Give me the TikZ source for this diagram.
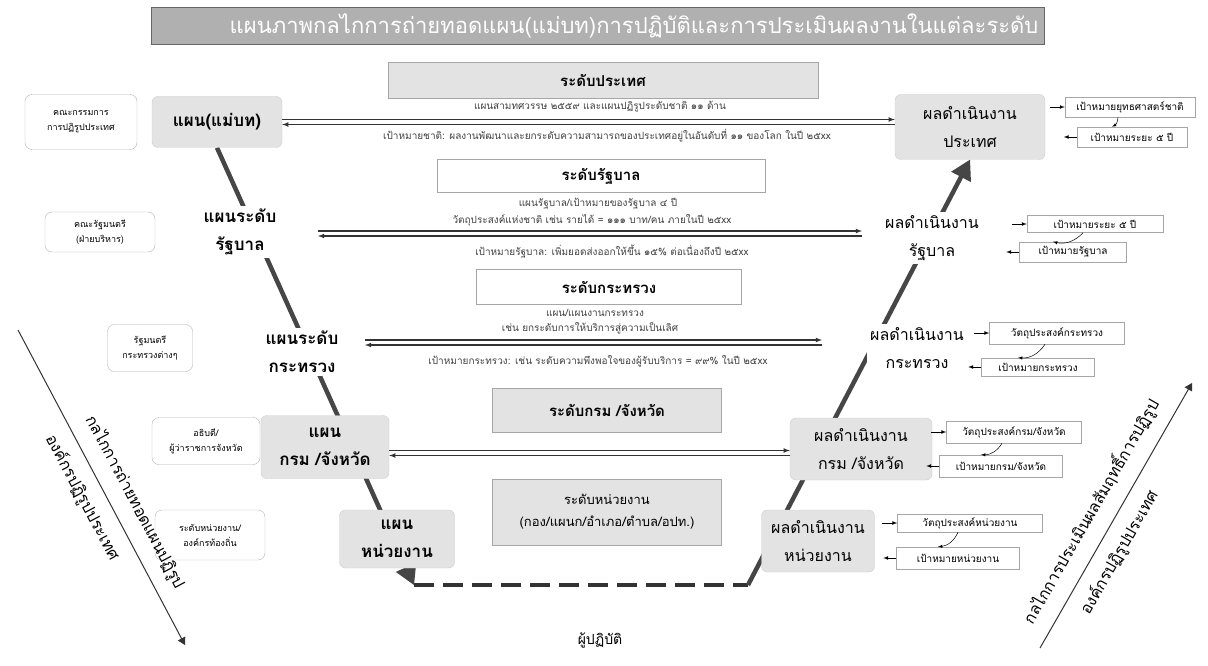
\documentclass[tikz,border=0pt]{standalone}
\usepackage{fontspec}
\setmainfont[Script=Thai]{Loma}
\usetikzlibrary{arrows, calc, backgrounds}

\tikzset{
  banner/.style={draw=black!60, fill=gray!62, minimum width=893pt, minimum height=37pt, inner sep=0pt},
  bannertext/.style={text=white, inner sep=0pt, font=\fontsize{22}{24}\selectfont},
  levelgray/.style={draw=gray!70, fill=gray!22, inner sep=0pt, font=\fontsize{15}{17}\selectfont\bfseries},
  levelwhite/.style={draw=gray!70, fill=white, inner sep=0pt, font=\fontsize{15}{17}\selectfont\bfseries},
  plangray/.style={draw=gray!40, fill=gray!22, rounded corners=6pt, inner sep=0pt, align=center, font=\fontsize{17}{28}\selectfont\bfseries},
  planword/.style={fill=white, inner sep=3pt, align=center, font=\fontsize{17}{28}\selectfont\bfseries},
  resgray/.style={draw=gray!40, fill=gray!22, rounded corners=6pt, inner sep=0pt, align=center, font=\fontsize{16}{28}\selectfont},
  resword/.style={fill=white, inner sep=3pt, align=center, font=\fontsize{16}{28}\selectfont},
  owner/.style={draw=gray!60, rounded corners=7pt, inner sep=0pt, align=center, font=\fontsize{9}{15}\selectfont},
  goal/.style={draw=gray!70, line width=0.5pt, inner sep=0pt, font=\fontsize{10}{12}\selectfont},
  note/.style={text=black!75, inner sep=0pt, font=\fontsize{10}{11}\selectfont},
  spine/.style={line width=4.5pt, draw=gray!55!black},
  gap/.style={line width=4pt, draw=black!80, dash pattern=on 20pt off 9pt},
  flow/.style={-latex, line width=1.1pt, draw=black!80},
  goalflow/.style={-latex, line width=0.7pt},
  turn/.style={-latex, line width=0.5pt},
  diag/.style={-triangle 60, line width=1pt, draw=black!80},
  diagtext/.style={font=\fontsize{16}{18}\selectfont, sloped, inner sep=1pt},
}

\begin{document}
\begin{tikzpicture}[x=1pt, y=-1pt]
	\useasboundingbox (0,0) rectangle (1208,666);

	\node[banner] (title) at (598,26) {};
	\node[bannertext] (titletext) at (634,26) {แผนภาพกลไกการถ่ายทอดแผน(แม่บท)การปฏิบัติและการประเมินผลงานในแต่ละระดับ};

	% levels
	\node[levelgray, minimum width=430pt, minimum height=36pt] (lv1) at (603,80) {ระดับประเทศ};
	\node[levelwhite, minimum width=328pt, minimum height=33pt] (lv2) at (601,176) {ระดับรัฐบาล};
	\node[levelwhite, minimum width=265pt, minimum height=35pt] (lv3) at (609,287) {ระดับกระทรวง};
	\node[levelgray, minimum width=229pt, minimum height=44pt] (lv4) at (607,410) {ระดับกรม /จังหวัด};
	\node[levelgray, minimum width=229pt, minimum height=66pt, align=center, font=\fontsize{13}{22}\selectfont] (lv5) at (607,512) {ระดับหน่วยงาน\\(กอง/แผนก/อำเภอ/ตำบล/อปท.)};

	\node[note] (t1a) at (600,107) {แผนสามทศวรรษ ๒๕๕๙ และแผนปฏิรูประดับชาติ ๑๑ ด้าน};
	\node[note] (t1b) at (607,136) {เป้าหมายชาติ: ผลงานพัฒนาและยกระดับความสามารถของประเทศอยู่ในอันดับที่ ๑๑ ของโลก ในปี ๒๕xx};
	\node[note] (t2a) at (598,204) {แผนรัฐบาล/เป้าหมายของรัฐบาล ๔ ปี};
	\node[note] (t2b) at (592,220) {วัตถุประสงค์แห่งชาติ เช่น รายได้ = ๑๑๑ บาท/คน ภายในปี ๒๕xx};
	\node[note] (t2c) at (612,251) {เป้าหมายรัฐบาล: เพิ่มยอดส่งออกให้ขึ้น ๑๕\% ต่อเนื่องถึงปี ๒๕xx};
	\node[note] (t3a) at (595,313) {แผน/แผนงานกระทรวง};
	\node[note] (t3b) at (590,328) {เช่น ยกระดับการให้บริการสู่ความเป็นเลิศ};
	\node[note] (t3c) at (598,361) {เป้าหมายกระทรวง: เช่น ระดับความพึงพอใจของผู้รับบริการ = ๙๙\% ในปี ๒๕xx};

	% who plans
	\node[owner, minimum width=112pt, minimum height=55pt] (s1) at (81,122) {คณะกรรมการ\\การปฏิรูปประเทศ};
	\node[owner, minimum width=110pt, minimum height=40pt] (s2) at (100,232) {คณะรัฐมนตรี\\(ฝ่ายบริหาร)};
	\node[owner, minimum width=85pt, minimum height=47pt] (s3) at (150,348) {รัฐมนตรี\\กระทรวงต่างๆ};
	\node[owner, minimum width=108pt, minimum height=47pt] (s4) at (206,441) {อธิบดี/\\ผู้ว่าราชการจังหวัด};
	\node[owner, minimum width=110pt, minimum height=50pt] (s5) at (210,535) {ระดับหน่วยงาน/\\องค์กรท้องถิ่น};

	% plans
	\node[plangray, minimum width=130pt, minimum height=51pt] (plan1) at (217,122) {แผน(แม่บท)};
	\node[planword] (plan2) at (240,232) {แผนระดับ\\รัฐบาล};
	\node[planword] (plan3) at (302,352) {แผนระดับ\\กระทรวง};
	\node[plangray, minimum width=128pt, minimum height=63pt] (plan4) at (325,447) {แผน\\กรม /จังหวัด};
	\node[plangray, minimum width=115pt, minimum height=58pt] (plan5) at (397,539) {แผน\\หน่วยงาน};

	% results
	\node[resgray, minimum width=150pt, minimum height=65pt] (res1) at (970,127) {ผลดำเนินงาน\\ประเทศ};
	\node[resword] (res2) at (932,238) {ผลดำเนินงาน\\รัฐบาล};
	\node[resword] (res3) at (917,348) {ผลดำเนินงาน\\กระทรวง};
	\node[resgray, minimum width=142pt, minimum height=62pt] (res4) at (861,449) {ผลดำเนินงาน\\กรม /จังหวัด};
	\node[resgray, minimum width=113pt, minimum height=62pt] (res5) at (818,541) {ผลดำเนินงาน\\หน่วยงาน};

	% goals
	\node[goal, minimum width=130pt, minimum height=20pt] (g1a) at (1130,107) {เป้าหมายยุทธศาสตร์ชาติ};
	\node[goal, minimum width=110pt, minimum height=20pt] (g1b) at (1132,137) {เป้าหมายระยะ ๕ ปี};
	\node[goal, minimum width=136pt, minimum height=17pt] (g2a) at (1095,224) {เป้าหมายระยะ ๕ ปี};
	\node[goal, minimum width=107pt, minimum height=20pt] (g2b) at (1073,252) {เป้าหมายรัฐบาล};
	\node[goal, minimum width=135pt, minimum height=22pt] (g3a) at (1057,333) {วัตถุประสงค์กระทรวง};
	\node[goal, minimum width=113pt, minimum height=18pt] (g3b) at (1038,367) {เป้าหมายกระทรวง};
	\node[goal, minimum width=135pt, minimum height=22pt] (g4a) at (1014,432) {วัตถุประสงค์กรม/จังหวัด};
	\node[goal, minimum width=123pt, minimum height=22pt] (g4b) at (1001,466) {เป้าหมายกรม/จังหวัด};
	\node[goal, minimum width=145pt, minimum height=18pt] (g5a) at (970,523) {วัตถุประสงค์หน่วยงาน};
	\node[goal, minimum width=123pt, minimum height=22pt] (g5b) at (958,558) {เป้าหมายหน่วยงาน};

	\foreach \i in {1,...,5} {
		\draw[goalflow] ([xshift=-15pt]g\i a.west) -- (g\i a.west);
		\draw[goalflow] (g\i b.west) -- ([xshift=-13pt]g\i b.west);
		\draw[turn] ([xshift=-12pt]g\i a.south) to[bend left=30] ([xshift=-20pt]g\i b.north);
	}

	% level arrows
	\coordinate (m1l) at (plan1.east);
	\coordinate (m1r) at (plan1.east -| res1.west);
	\coordinate (m2l) at (318,233.5);
	\coordinate (m2r) at (862,233.5);
	\coordinate (m3l) at (365,342.5);
	\coordinate (m3r) at (822,342.5);
	\coordinate (m4l) at ([yshift=-6pt]plan4.east);
	\coordinate (m4r) at (m4l -| res4.west);
	\foreach \i in {1,...,4} {
		\draw[flow] ([yshift=2.5pt]m\i l) -- ([yshift=2.5pt]m\i r);
		\draw[flow] ([yshift=-2.5pt]m\i r) -- ([yshift=-2.5pt]m\i l);
	}

	% spine
	\coordinate (botL) at (414,585);
	\coordinate (botR) at (748,585);
	\begin{pgfonlayer}{background}
		\draw[spine, -triangle 60] (plan1.south) -- (botL);
		\draw[gap] (botL) -- (botR);
		\draw[spine, -triangle 60] (botR) -- (res1.south);
	\end{pgfonlayer}
	\node[font=\fontsize{14}{16}\selectfont] (doer) at (600,640) {ผู้ปฏิบัติ};

	% side mechanisms
	\coordinate (dlA) at (18,330);
	\coordinate (dlB) at (185,645);
	\draw[diag] (dlA) -- (dlB) node[diagtext, pos=0.58, above=12pt] {กลไกการถ่ายทอดแผนปฏิรูป} node[diagtext, pos=0.5, below=11pt] {องค์กรปฏิรูปประเทศ};
	\coordinate (drA) at (1040,648);
	\coordinate (drB) at (1192,383);
	\draw[diag] (drA) -- (drB) node[diagtext, pos=0.47, above=12pt] {กลไกการประเมินผลสัมฤทธิ์การปฏิรูป} node[diagtext, pos=0.4, below=11pt] {องค์กรปฏิรูปประเทศ};
\end{tikzpicture}
\end{document}
